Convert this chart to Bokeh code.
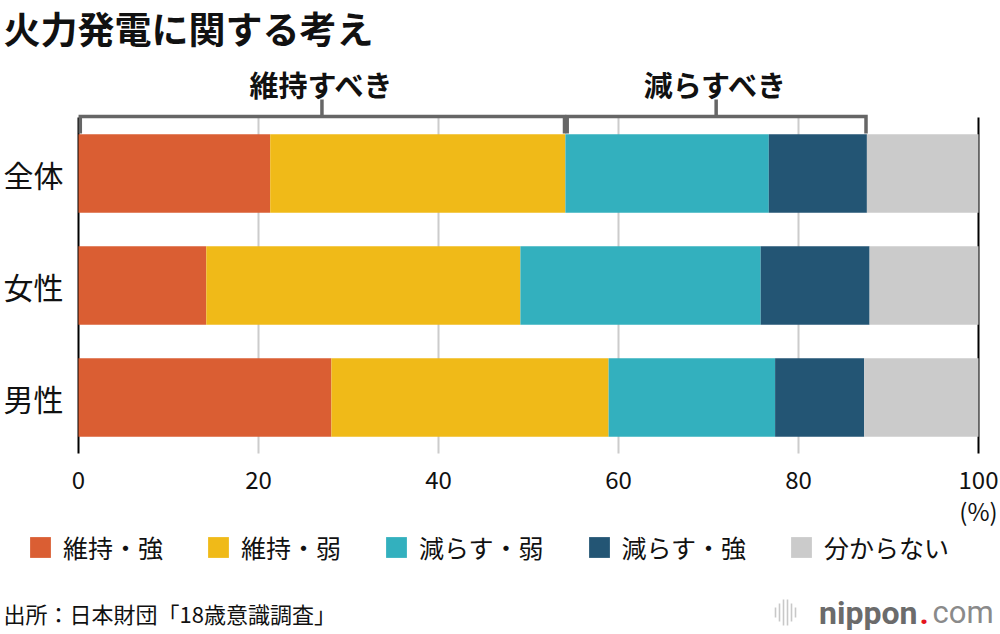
from bokeh.plotting import figure
from bokeh.models import ColumnDataSource, Label, Legend, LegendItem
from bokeh.core.properties import value
from bokeh.embed import file_html
from bokeh.resources import INLINE

# data (%), rows bottom -> top
groups = ["男性", "女性", "全体"]
keep_strong = [28.1, 14.2, 21.3]
keep_weak = [30.8, 34.9, 32.8]
cut_weak = [18.5, 26.7, 22.6]
cut_strong = [9.9, 12.1, 10.9]
unknown = [12.7, 12.1, 12.4]

series = ["keep_strong", "keep_weak", "cut_weak", "cut_strong", "unknown"]
series_labels = ["維持・強", "維持・弱", "減らす・弱", "減らす・強", "分からない"]
colors = ["#DA5E33", "#F0BA18", "#33B0BE", "#235574", "#CBCBCB"]
x_ticks = [0, 20, 40, 60, 80, 100]

FONT = "Noto Sans CJK JP"
W, H = 1000, 634

# page layout: x=0 at 78px, x=100 at 978px; row 0 centred at 397px, 112px per row
XPX = 9.0
YPX = 112.0
x_start = -78 / XPX
x_end = 100 + (W - 978) / XPX
y_start = -(H - 397) / YPX
y_end = 397 / YPX

def py(page_y):
    return (397 - page_y) / YPX

def px(page_x):
    return (page_x - 78) / XPX

source = ColumnDataSource(dict(
    y=list(range(len(groups))),
    keep_strong=keep_strong, keep_weak=keep_weak, cut_weak=cut_weak,
    cut_strong=cut_strong, unknown=unknown,
))

p = figure(width=W, height=H, output_backend="svg", toolbar_location=None,
           x_range=(x_start, x_end), y_range=(y_start, y_end),
           min_border=0)
p.outline_line_color = None
p.grid.visible = False
p.axis.visible = False

# grid + edge lines, only across the bar area
inner = [t for t in x_ticks if 0 < t < 100]
p.segment(x0=inner, y0=-0.5, x1=inner, y1=2.5, line_color="#CCCCCC", line_width=2)
p.segment(x0=[0, 100], y0=-0.5, x1=[0, 100], y1=2.5, line_color="black", line_width=2)

bars = p.hbar_stack(series, y="y", height=0.7, color=colors, source=source,
                    line_color=None)

# tick labels and row labels
p.text(x=x_ticks, y=[py(479)] * len(x_ticks), text=[str(t) for t in x_ticks],
       text_font=value(FONT), text_font_size="24px", text_align="center",
       text_baseline="middle", text_color="#111111")
p.text(x=[100], y=[py(510)], text=["(%)"], text_font=value(FONT), text_font_size="24px",
       text_align="center", text_baseline="middle", text_color="#111111")
p.text(x=[px(63)] * len(groups), y=list(range(len(groups))), text=groups,
       text_font=value(FONT), text_font_size="30px", text_align="right",
       text_baseline="middle", text_color="#111111")

# brackets over the top row
top = len(groups) - 1
b_keep = keep_strong[top] + keep_weak[top]
b_cut = b_keep + cut_weak[top] + cut_strong[top]
spans = [(0, b_keep, "維持すべき"), (b_keep, b_cut, "減らすべき")]
y_h, y_d, y_u = py(116), py(133), py(99)
xs, ys = [], []
for a, b, _ in spans:
    xs.append([a + 0.2, a + 0.2, b - 0.1, b - 0.1])
    ys.append([y_d, y_h, y_h, y_d])
    xs.append([(a + b) / 2, (a + b) / 2])
    ys.append([y_h, y_u])
p.multi_line(xs, ys, line_color="#666666", line_width=3.5, line_join="miter")
p.text(x=[(a + b) / 2 for a, b, _ in spans], y=[py(83)] * 2, text=[t for _, _, t in spans],
       text_font=value(FONT), text_font_size="29px", text_font_style="bold",
       text_align="center", text_baseline="middle", text_color="#111111")

# legend
legend = Legend(items=[LegendItem(label=l, renderers=[r]) for l, r in zip(series_labels, bars)],
                orientation="horizontal", location=(27, H - 565),
                glyph_width=26, glyph_height=26, label_standoff=10, spacing=42,
                padding=0, margin=0, border_line_alpha=0, background_fill_alpha=0,
                label_text_font=FONT, label_text_font_size="25px",
                label_text_color="#111111", label_height=26)
p.add_layout(legend, "center")

# title and source
p.add_layout(Label(x=3, y=H - 27, x_units="screen", y_units="screen", text="火力発電に関する考え",
                   text_font=FONT, text_font_size="37px", text_font_style="bold",
                   text_baseline="middle", text_color="#111111"))
p.add_layout(Label(x=3, y=H - 612, x_units="screen", y_units="screen",
                   text="出所：日本財団「18歳意識調査」", text_font=FONT, text_font_size="22px",
                   text_baseline="middle", text_color="#111111"))

# nippon.com mark
icon_x = [775, 779, 783, 787, 791, 795]
icon_h = [10, 18, 26, 26, 18, 10]
p.segment(x0=[px(v) for v in icon_x], y0=[py(612 - h / 2) for h in icon_h],
          x1=[px(v) for v in icon_x], y1=[py(612 + h / 2) for h in icon_h],
          line_color="#C8C8C8", line_width=1.6)
p.add_layout(Label(x=917, y=H - 612, x_units="screen", y_units="screen", text="nippon",
                   text_font="Roboto", text_font_size="32px", text_font_style="bold",
                   text_align="right", text_baseline="middle", text_color="#6B6B6B"))
p.add_layout(Label(x=919, y=H - 612, x_units="screen", y_units="screen", text=".",
                   text_font="Roboto", text_font_size="32px", text_font_style="bold",
                   text_baseline="middle", text_color="#E5141E"))
p.add_layout(Label(x=932, y=H - 612, x_units="screen", y_units="screen", text="com",
                   text_font="Roboto", text_font_size="31px",
                   text_baseline="middle", text_color="#8A8A8A"))

open("out.html", "w").write(file_html(p, INLINE))
